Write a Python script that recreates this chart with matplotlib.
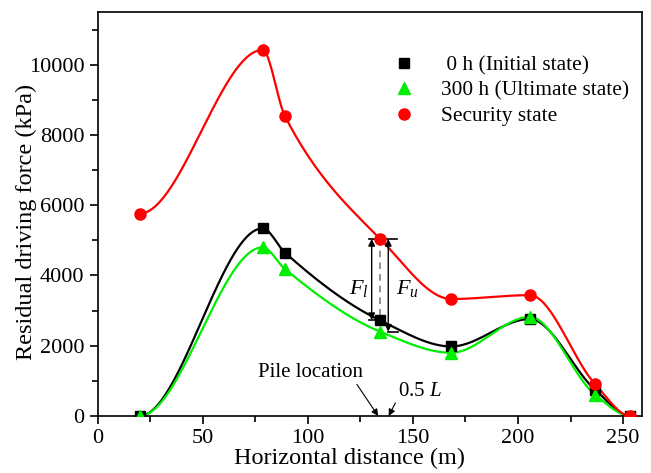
import numpy as np
import matplotlib
matplotlib.use("Agg")
import matplotlib.pyplot as plt
from matplotlib.ticker import MultipleLocator

plt.rcParams['font.family'] = ['Liberation Serif', 'DejaVu Serif']
plt.rcParams['mathtext.fontset'] = 'custom'
plt.rcParams['mathtext.it'] = 'Liberation Serif:italic'
plt.rcParams['mathtext.rm'] = 'Liberation Serif'

# ---- data ----
x_pts = [20, 78.5, 89.2, 134.5, 168.3, 205.6, 236.8, 253.5]
initial = [0, 5340, 4650, 2720, 1980, 2760, 740, 0]
ultimate = [0, 4800, 4180, 2400, 1800, 2820, 600, 0]
security = [5760, 10420, 8530, 5040, 3330, 3440, 900, 0]

labels = [' 0 h (Initial state)', '300 h (Ultimate state)', 'Security state']
colors = ['#000000', '#00ee00', '#ff0000']
markers = ['s', '^', 'o']
msizes = [7, 9, 8]


def pchip_curve(x, y, n=500):
    """Monotone piecewise cubic Hermite curve through the points, flat ends."""
    x = np.asarray(x, float); y = np.asarray(y, float)
    h = np.diff(x); d = np.diff(y) / h
    m = len(x)
    t = np.zeros(m)
    for k in range(1, m - 1):
        if d[k - 1] * d[k] > 0:
            w1 = 2 * h[k] + h[k - 1]
            w2 = h[k] + 2 * h[k - 1]
            t[k] = (w1 + w2) / (w1 / d[k - 1] + w2 / d[k])
        else:
            t[k] = 0.0
    xs = np.linspace(x[0], x[-1], n)
    idx = np.clip(np.searchsorted(x, xs) - 1, 0, m - 2)
    hh = h[idx]
    s = (xs - x[idx]) / hh
    h00 = 2 * s ** 3 - 3 * s ** 2 + 1
    h10 = s ** 3 - 2 * s ** 2 + s
    h01 = -2 * s ** 3 + 3 * s ** 2
    h11 = s ** 3 - s ** 2
    ys = h00 * y[idx] + h10 * hh * t[idx] + h01 * y[idx + 1] + h11 * hh * t[idx + 1]
    return xs, ys


fig = plt.figure(figsize=(6.51, 4.73), dpi=100)
ax = fig.add_axes([0.1498, 0.1205, 0.8364, 0.8541])

series = [initial, ultimate, security]
handles = []
for s, c, mk, ms, lab in zip(series, colors, markers, msizes, labels):
    xs, ys = pchip_curve(x_pts, s)
    ax.plot(xs, ys, color=c, lw=1.6, zorder=2)
    h, = ax.plot(x_pts, s, linestyle='none', marker=mk, color=c, ms=ms, label=lab, zorder=3)
    handles.append(h)

# F_l / F_u annotation
top = security[3]
bl = initial[3]
bu = ultimate[3]
ax.plot([129, 142.3], [top, top], color='k', lw=1.2)
ax.plot([129.3, 134.5], [bl, bl], color='k', lw=1.2)
ax.plot([138.3, 143], [bu, bu], color='k', lw=1.2)
ax.plot([134.5, 134.5], [top, bl], color='gray', lw=1.2, ls=(0, (4, 3)))
ax.annotate('', xy=(130.4, top), xytext=(130.4, bl + 10),
            arrowprops=dict(arrowstyle='<|-|>', color='k', lw=1, mutation_scale=10, shrinkA=0, shrinkB=0))
ax.annotate('', xy=(138.3, top), xytext=(138.3, bu),
            arrowprops=dict(arrowstyle='<|-|>', color='k', lw=1, mutation_scale=10, shrinkA=0, shrinkB=0))
ax.text(124.5, 3640, r'$F_l$', fontsize=16, ha='center', va='center')
ax.text(147.5, 3640, r'$F_u$', fontsize=16, ha='center', va='center')

# pile location / 0.5 L
ax.annotate('Pile location', xy=(133.5, 0), xytext=(101.5, 1250),
            fontsize=15, ha='center', va='center',
            arrowprops=dict(arrowstyle='-|>', color='k', lw=0.8, mutation_scale=10,
                            shrinkA=0, shrinkB=0, relpos=(0.92, 0.0)))
ax.annotate(r'0.5 $L$', xy=(138.5, 0), xytext=(143.0, 690),
            fontsize=15, ha='left', va='center',
            arrowprops=dict(arrowstyle='-|>', color='k', lw=0.8, mutation_scale=10,
                            shrinkA=0, shrinkB=0, relpos=(0.0, 0.2)))

ax.set_xlim(0, 259)
ax.set_ylim(0, 11500)
ax.xaxis.set_major_locator(MultipleLocator(50))
ax.xaxis.set_minor_locator(MultipleLocator(25))
ax.yaxis.set_major_locator(MultipleLocator(2000))
ax.yaxis.set_minor_locator(MultipleLocator(1000))
ax.tick_params(which='major', direction='out', length=6, width=1.2, labelsize=16)
ax.tick_params(which='minor', direction='out', length=4, width=1.2)
for sp in ax.spines.values():
    sp.set_linewidth(1.2)
ax.set_xlabel('Horizontal distance (m)', fontsize=17.5)
ax.set_ylabel('Residual driving force (kPa)', fontsize=17.5)
ax.xaxis.set_label_coords(0.462, -0.080)
ax.yaxis.set_label_coords(-0.112, 0.48)

ax.legend(handles=handles, loc='upper left', bbox_to_anchor=(0.524, 0.92), frameon=False,
          fontsize=15.4, handlelength=1.0, handletextpad=1.2, labelspacing=0.27, borderpad=0)

fig.savefig('out.png', dpi=100)
